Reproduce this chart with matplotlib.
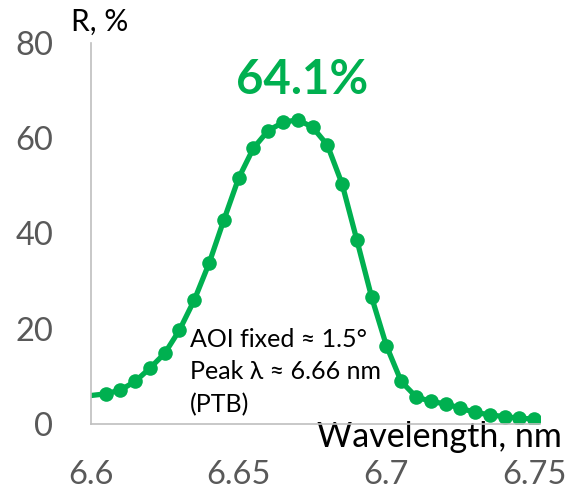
import matplotlib
matplotlib.use("Agg")
import matplotlib.pyplot as plt

# reflectance curve (first point lies left of the axis and is clipped)
wavelength = [6.595, 6.605, 6.610, 6.615, 6.620, 6.625, 6.630, 6.635, 6.640, 6.645,
              6.650, 6.655, 6.660, 6.665, 6.670, 6.675, 6.680, 6.685, 6.690, 6.695,
              6.700, 6.705, 6.710, 6.715, 6.720, 6.725, 6.730, 6.735, 6.740, 6.745, 6.750]
reflect = [5.6, 6.3, 7.1, 8.9, 11.7, 14.8, 19.7, 26.0, 33.7, 42.8,
           51.6, 57.9, 61.6, 63.3, 63.9, 62.3, 58.6, 50.4, 38.6, 26.6,
           16.4, 8.9, 5.7, 4.7, 4.2, 3.3, 2.4, 1.9, 1.5, 1.2, 1.0]
xticks = [6.6, 6.65, 6.7, 6.75]
xtick_labels = ["6.6", "6.65", "6.7", "6.75"]
yticks = [0, 20, 40, 60, 80]

green = "#00B050"
plt.rcParams['font.family'] = ['Lato', 'DejaVu Sans']

fig = plt.figure(figsize=(5.71, 4.94), dpi=100)
ax = fig.add_axes([0.159, 0.142, 0.787, 0.771])

ax.plot(wavelength, reflect, color=green, lw=3.8, marker='o', ms=10.5,
        markeredgewidth=0, clip_on=True)

ax.set_xlim(6.6, 6.752)
ax.set_ylim(0, 80)
ax.set_xticks(xticks)
ax.set_xticklabels(xtick_labels)
ax.set_yticks(yticks)
ax.tick_params(axis='both', length=0, labelsize=23.5, labelcolor='#595959')
ax.tick_params(axis='x', pad=26)
ax.tick_params(axis='y', pad=27)

for s in ['top', 'right']:
    ax.spines[s].set_visible(False)
for s in ['left', 'bottom']:
    ax.spines[s].set_color('#BFBFBF')
    ax.spines[s].set_linewidth(1.2)

ax.set_ylabel("R, %", rotation=0, fontsize=21.5, color='black', ha='center', va='center')
ax.yaxis.set_label_coords(0.02, 1.055)
ax.set_xlabel("Wavelength, nm", fontsize=24.5, color='black', ha='right', va='center')
ax.xaxis.set_label_coords(1.049, -0.034)

ax.text(0.47, 0.903, "64.1%", transform=ax.transAxes, color=green, fontsize=34,
        fontweight='bold', ha='center', va='center')
ax.text(0.22, 0.252, "AOI fixed \u2248 1.5\u00b0\nPeak \u03bb \u2248 6.66 nm\n(PTB)",
        transform=ax.transAxes, fontsize=18, color='black', ha='left', va='top',
        linespacing=1.5)

fig.savefig("out.png", dpi=100)
